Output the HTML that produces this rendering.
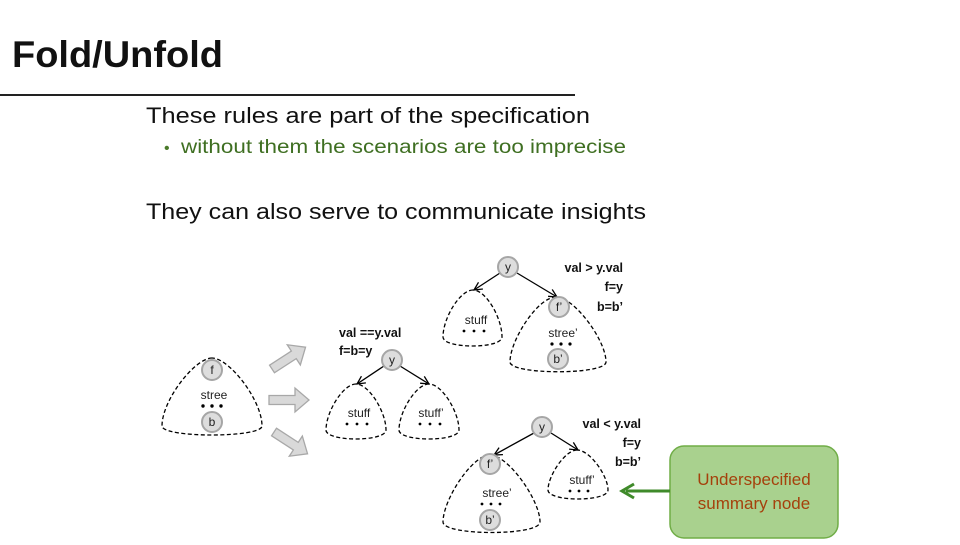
<!DOCTYPE html>
<html><head><meta charset="utf-8"><style>
body{margin:0;width:960px;height:540px;background:#fff;overflow:hidden;font-family:"Liberation Sans",sans-serif}
</style></head><body>
<svg width="960" height="540" viewBox="0 0 960 540" xmlns="http://www.w3.org/2000/svg" font-family="Liberation Sans, sans-serif">
<defs>
<marker id="ah" markerWidth="10" markerHeight="10" refX="9" refY="5" orient="auto" markerUnits="userSpaceOnUse"><path d="M1,1 L9,5 L1,9" fill="none" stroke="#000" stroke-width="1.3"/></marker>
</defs>
<text x="12" y="67" font-size="37" font-weight="bold" fill="#111" textLength="211" lengthAdjust="spacingAndGlyphs">Fold/Unfold</text>
<line x1="0" y1="95" x2="575" y2="95" stroke="#222" stroke-width="2"/>
<text x="146" y="123" font-size="22" fill="#111" textLength="444" lengthAdjust="spacingAndGlyphs">These rules are part of the specification</text>
<text x="164" y="153" font-size="16" fill="#4a7a2a">•</text>
<text x="181" y="153" font-size="19" fill="#3f6f22" textLength="445" lengthAdjust="spacingAndGlyphs">without them the scenarios are too imprecise</text>
<text x="146" y="219" font-size="22" fill="#111" textLength="500" lengthAdjust="spacingAndGlyphs">They can also serve to communicate insights</text>
<g fill="none" stroke="#000" stroke-width="1.3" stroke-dasharray="4,2.5">
<path d="M212,358 C195,358 162,400 162,426 C162,438 262,438 262,426 C262,400 229,358 212,358Z"/>
<path d="M356,384 C343,384 326,412 326,430 C326,442 386,442 386,430 C386,412 369,384 356,384Z"/>
<path d="M429,384 C416,384 399,412 399,430 C399,442 459,442 459,430 C459,412 442,384 429,384Z"/>
<path d="M473,290 C460,290 443,318 443,337 C443,349 502,349 502,337 C502,318 486,290 473,290Z"/>
<path d="M556,297 C538,297 510,340 510,362 C510,375 606,375 606,362 C606,340 574,297 556,297Z"/>
<path d="M490,455 C472,455 443,500 443,522 C443,536 540,536 540,522 C540,500 508,455 490,455Z"/>
<path d="M577,450 C565,450 548,476 548,490 C548,502 608,502 608,490 C608,476 590,450 577,450Z"/>
</g>
<g stroke="#000" stroke-width="1.3" marker-end="url(#ah)">
<line x1="384" y1="366" x2="357" y2="384"/>
<line x1="400" y1="366" x2="429" y2="384"/>
<line x1="500" y1="273" x2="474" y2="290"/>
<line x1="517" y1="273" x2="557" y2="297"/>
<line x1="534" y1="433" x2="494" y2="455"/>
<line x1="551" y1="433" x2="578" y2="450"/>
</g>
<g fill="#ddd" stroke="#a6a6a6" stroke-width="2">
<circle cx="212" cy="370" r="10"/><circle cx="212" cy="422" r="10"/>
<circle cx="392" cy="360" r="10"/><circle cx="508" cy="267" r="10"/>
<circle cx="559" cy="307" r="10"/><circle cx="558" cy="359" r="10"/>
<circle cx="542" cy="427" r="10"/><circle cx="490" cy="464" r="10"/>
<circle cx="490" cy="520" r="10"/>
</g>
<g font-size="12" fill="#222" text-anchor="middle">
<text x="212" y="374">f</text><text x="212" y="426">b</text>
<text x="392" y="364">y</text><text x="508" y="271">y</text>
<text x="559" y="311">f’</text><text x="558" y="363">b’</text>
<text x="542" y="431">y</text><text x="490" y="468">f’</text>
<text x="490" y="524">b’</text>
<text x="214" y="399">stree</text><text x="359" y="417">stuff</text>
<text x="431" y="417">stuff’</text><text x="476" y="324">stuff</text>
<text x="563" y="337">stree’</text><text x="497" y="497">stree’</text>
<text x="582" y="484">stuff’</text>
</g>
<g fill="#000">
<circle cx="203" cy="406" r="1.7"/><circle cx="212" cy="406" r="1.7"/><circle cx="221" cy="406" r="1.7"/>
<circle cx="347" cy="424" r="1.4"/><circle cx="357" cy="424" r="1.4"/><circle cx="367" cy="424" r="1.4"/>
<circle cx="420" cy="424" r="1.4"/><circle cx="430" cy="424" r="1.4"/><circle cx="440" cy="424" r="1.4"/>
<circle cx="464" cy="331" r="1.4"/><circle cx="474" cy="331" r="1.4"/><circle cx="484" cy="331" r="1.4"/>
<circle cx="552" cy="344" r="1.6"/><circle cx="561" cy="344" r="1.6"/><circle cx="570" cy="344" r="1.6"/>
<circle cx="482" cy="504" r="1.4"/><circle cx="491" cy="504" r="1.4"/><circle cx="500" cy="504" r="1.4"/>
<circle cx="570" cy="491" r="1.4"/><circle cx="579" cy="491" r="1.4"/><circle cx="588" cy="491" r="1.4"/>
</g>
<g font-size="12.5" font-weight="bold" fill="#111">
<text x="339" y="337">val ==y.val</text><text x="339" y="355">f=b=y</text>
<g text-anchor="end"><text x="623" y="272">val &gt; y.val</text><text x="623" y="291">f=y</text><text x="623" y="311">b=b’</text>
<text x="641" y="428">val &lt; y.val</text><text x="641" y="447">f=y</text><text x="641" y="466">b=b’</text></g>
</g>
<g fill="#d9d9d9" stroke="#a8a8a8" stroke-width="1.3">
<path d="M0,-4.5 L26,-4.5 L26,-12 L40,0 L26,12 L26,4.5 L0,4.5Z" transform="translate(269,400)"/>
<path d="M0,-4.5 L26,-4.5 L26,-12 L40,0 L26,12 L26,4.5 L0,4.5Z" transform="translate(272,369) rotate(-33)"/>
<path d="M0,-4.5 L26,-4.5 L26,-12 L40,0 L26,12 L26,4.5 L0,4.5Z" transform="translate(274,432) rotate(33)"/>
</g>
<rect x="670" y="446" width="168" height="92" rx="14" fill="#a9d18e" stroke="#70ad47" stroke-width="1.5"/>
<text x="754" y="485" font-size="17" fill="#a5410c" text-anchor="middle">Underspecified</text>
<text x="754" y="509" font-size="17" fill="#a5410c" text-anchor="middle">summary node</text>
<line x1="670" y1="491" x2="626" y2="491" stroke="#3f8a2a" stroke-width="3"/>
<path d="M634,484 L622,491 L634,498" fill="none" stroke="#3f8a2a" stroke-width="3"/>
</svg>
</body></html>
